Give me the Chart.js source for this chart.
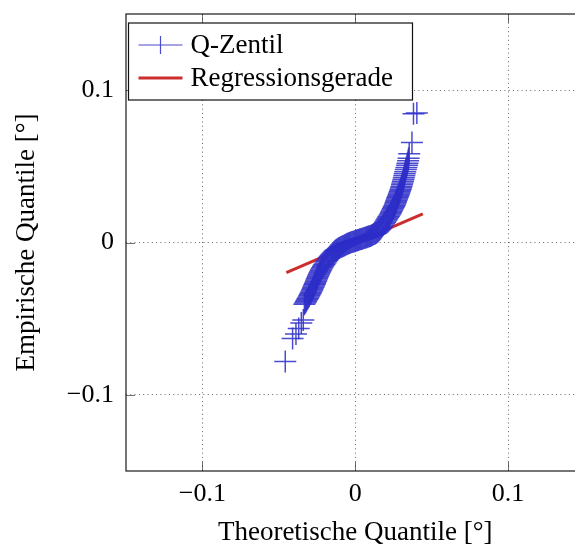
<!DOCTYPE html>
<html>
<head>
<meta charset="utf-8">
<title>Q-Q-Plot</title>
<script src="https://cdn.jsdelivr.net/npm/chart.js@4/dist/chart.umd.min.js"></script>
<style>
  html, body { margin: 0; padding: 0; background: #fff; overflow: hidden; }
  #wrap { width: 590px; height: 549px; }
</style>
</head>
<body>
<div id="wrap"><canvas id="qqChart" width="590" height="549"></canvas></div>
<script>
// theoretical vs. empirical quantiles [deg]
const theoQuantiles = [
  -0.0458, -0.0410, -0.0388, -0.0370, -0.0353, -0.0340,
  -0.0333, -0.0328, -0.0323, -0.0319, -0.0314, -0.0310, -0.0305, -0.0301, -0.0297, -0.0293,
  -0.0289, -0.0285, -0.0281, -0.0278, -0.0274, -0.0271, -0.0267, -0.0264, -0.0261, -0.0257,
  -0.0254, -0.0251, -0.0247, -0.0244, -0.0240, -0.0237, -0.0233, -0.0229, -0.0225, -0.0221,
  -0.0216, -0.0211, -0.0206, -0.0201, -0.0195, -0.0189, -0.0183, -0.0177, -0.0171, -0.0165,
  -0.0159, -0.0153, -0.0147, -0.0141, -0.0135, -0.0129, -0.0123,
  -0.0117, -0.0111, -0.0105, -0.0099, -0.0093, -0.0087, -0.0081, -0.0075, -0.0069, -0.0063,
  -0.0057, -0.0051, -0.0045, -0.0039, -0.0033, -0.0027, -0.0021, -0.0015, -0.0009, -0.0003,
  0.0003, 0.0009, 0.0015, 0.0021, 0.0027, 0.0033, 0.0039, 0.0045, 0.0051, 0.0057,
  0.0063, 0.0069, 0.0075, 0.0081, 0.0087, 0.0093, 0.0099, 0.0105, 0.0111, 0.0117,
  0.0123, 0.0129, 0.0135, 0.0141,
  0.0147, 0.0153, 0.0159, 0.0165, 0.0171, 0.0177, 0.0183, 0.0189, 0.0195, 0.0200,
  0.0205, 0.0210, 0.0215, 0.0220, 0.0225, 0.0230, 0.0234, 0.0238, 0.0242, 0.0246,
  0.0250, 0.0254, 0.0258, 0.0261, 0.0264, 0.0267, 0.0270, 0.0273, 0.0276, 0.0279,
  0.0282, 0.0285, 0.0288, 0.0291, 0.0294, 0.0297, 0.0300, 0.0303, 0.0306, 0.0309,
  0.0312, 0.0315, 0.0318, 0.0321, 0.0324, 0.0327, 0.0331, 0.0335, 0.0339, 0.0342,
  0.0346, 0.0349, 0.0353, 0.0371, 0.0381, 0.0403
];
const empQuantiles = [
  -0.0782, -0.0630, -0.0601, -0.0564, -0.0529, -0.0508,
  -0.0405, -0.0397, -0.0389, -0.0381, -0.0373, -0.0366, -0.0358, -0.0350, -0.0342, -0.0334,
  -0.0326, -0.0318, -0.0310, -0.0302, -0.0294, -0.0286, -0.0278, -0.0270, -0.0262, -0.0254,
  -0.0246, -0.0238, -0.0230, -0.0222, -0.0214, -0.0206, -0.0198, -0.0190, -0.0182, -0.0174,
  -0.0166, -0.0158, -0.0150, -0.0142, -0.0134, -0.0125, -0.0116, -0.0107, -0.0099, -0.0091,
  -0.0084, -0.0077, -0.0070, -0.0064, -0.0058, -0.0053, -0.0048,
  -0.0044, -0.0040, -0.0036, -0.0033, -0.0030, -0.0027, -0.0024, -0.0021, -0.0018, -0.0015,
  -0.0012, -0.0009, -0.0007, -0.0004, -0.0002, 0.0001, 0.0003, 0.0005, 0.0007, 0.0009,
  0.0011, 0.0013, 0.0015, 0.0017, 0.0019, 0.0021, 0.0023, 0.0025, 0.0027, 0.0029,
  0.0031, 0.0033, 0.0035, 0.0037, 0.0039, 0.0041, 0.0043, 0.0046, 0.0049, 0.0052,
  0.0055, 0.0058, 0.0062, 0.0066,
  0.0071, 0.0077, 0.0084, 0.0091, 0.0099, 0.0107, 0.0115, 0.0124, 0.0133, 0.0141,
  0.0149, 0.0157, 0.0165, 0.0173, 0.0181, 0.0189, 0.0197, 0.0205, 0.0213, 0.0221,
  0.0229, 0.0237, 0.0245, 0.0253, 0.0261, 0.0269, 0.0277, 0.0285, 0.0293, 0.0301,
  0.0309, 0.0317, 0.0325, 0.0333, 0.0341, 0.0350, 0.0359, 0.0369, 0.0380, 0.0391,
  0.0402, 0.0413, 0.0425, 0.0438, 0.0451, 0.0465, 0.0479, 0.0493, 0.0507, 0.0521,
  0.0536, 0.0553, 0.0582, 0.0656, 0.0846, 0.0850
];

// regression line end points
const regX = [-0.0451, 0.0442];
const regY = [-0.0198, 0.0188];

const xTickVals = [-0.1, 0, 0.1];
const yTickVals = [-0.1, 0, 0.1];
const seriesNames = ['Q-Zentil', 'Regressionsgerade'];

const SERIF = '"Liberation Serif", "Times New Roman", serif';
const BLUE = 'rgba(45, 45, 200, 0.86)';
const RED = '#cc2e2e';

// "-0.1" -> "−0.1" (typographic minus)
function fmtTick(v) {
  if (v === 0) return '0';
  return (v < 0 ? '\u2212' : '') + Math.abs(v).toString();
}

// inner tick marks, axis frame and the boxed legend in the upper left
const frameAndLegend = {
  id: 'frameAndLegend',
  afterDatasetsDraw(chart) {
    const { ctx, chartArea: a, scales: { x, y } } = chart;
    ctx.save();

    ctx.strokeStyle = 'rgba(0,0,0,0.55)';
    ctx.lineWidth = 1;
    ctx.beginPath();
    xTickVals.forEach(v => {
      const px = Math.round(x.getPixelForValue(v)) + 0.5;
      ctx.moveTo(px, a.bottom); ctx.lineTo(px, a.bottom - 9);
      ctx.moveTo(px, a.top); ctx.lineTo(px, a.top + 9);
    });
    yTickVals.forEach(v => {
      const py = Math.round(y.getPixelForValue(v)) + 0.5;
      ctx.moveTo(a.left, py); ctx.lineTo(a.left + 9, py);
      ctx.moveTo(a.right, py); ctx.lineTo(a.right - 9, py);
    });
    ctx.stroke();

    ctx.strokeStyle = '#1a1a1a';
    ctx.lineWidth = 1.2;
    ctx.strokeRect(a.left, a.top, a.right - a.left, a.bottom - a.top);

    // legend box
    const lx = a.left + 2.5, ly = a.top + 9, lw = 284, lh = 77;
    ctx.fillStyle = '#fff';
    ctx.fillRect(lx, ly, lw, lh);
    ctx.strokeStyle = '#111';
    ctx.lineWidth = 1.2;
    ctx.strokeRect(lx, ly, lw, lh);

    const rowY = [ly + 22, ly + 55];
    const sx0 = lx + 10, sx1 = lx + 54, sxm = (sx0 + sx1) / 2;

    ctx.strokeStyle = BLUE;
    ctx.lineWidth = 1.2;
    ctx.beginPath();
    ctx.moveTo(sx0, rowY[0]); ctx.lineTo(sx1, rowY[0]);
    ctx.moveTo(sxm, rowY[0] - 9); ctx.lineTo(sxm, rowY[0] + 9);
    ctx.stroke();

    ctx.strokeStyle = RED;
    ctx.lineWidth = 3;
    ctx.beginPath();
    ctx.moveTo(sx0, rowY[1]); ctx.lineTo(sx1, rowY[1]);
    ctx.stroke();

    ctx.fillStyle = '#000';
    ctx.font = '27px ' + SERIF;
    ctx.textBaseline = 'alphabetic';
    ctx.textAlign = 'left';
    seriesNames.forEach((name, i) => ctx.fillText(name, lx + 62, rowY[i] + 8));

    ctx.restore();
  }
};

const tickFont = { family: SERIF, size: 26 };
const titleFont = { family: SERIF, size: 27 };

new Chart(document.getElementById('qqChart'), {
  type: 'scatter',
  data: {
    datasets: [
      {
        label: seriesNames[0],
        data: theoQuantiles.map((v, i) => ({ x: v, y: empQuantiles[i] })),
        showLine: false,
        pointStyle: 'cross',
        pointRadius: 11,
        pointBorderWidth: 1.5,
        borderColor: BLUE,
        backgroundColor: BLUE
      },
      {
        label: seriesNames[1],
        data: regX.map((v, i) => ({ x: v, y: regY[i] })),
        showLine: true,
        borderColor: RED,
        borderWidth: 3,
        pointRadius: 0
      }
    ]
  },
  options: {
    responsive: false,
    animation: false,
    layout: { autoPadding: false, padding: { top: 14, right: 5.5, left: 0, bottom: 0 } },
    plugins: {
      legend: { display: false },
      tooltip: { enabled: false }
    },
    scales: {
      x: {
        type: 'linear',
        min: -0.15,
        max: 0.15,
        afterBuildTicks: s => { s.ticks = xTickVals.map(v => ({ value: v })); },
        afterFit: s => { s.height = 78; s.paddingLeft = 0; s.paddingRight = 0; },
        grid: { color: 'rgba(0,0,0,0.6)', lineWidth: 1, drawTicks: false },
        border: { display: false, dash: [1, 3.3] },
        ticks: { color: '#000', font: tickFont, padding: 8, callback: fmtTick },
        title: {
          display: true, text: 'Theoretische Quantile [°]', color: '#000',
          font: titleFont, padding: { top: 4, bottom: 0 }
        }
      },
      y: {
        type: 'linear',
        min: -0.15,
        max: 0.15,
        afterBuildTicks: s => { s.ticks = yTickVals.map(v => ({ value: v })); },
        afterFit: s => { s.width = 126; s.paddingTop = 0; s.paddingBottom = 0; },
        grid: { color: 'rgba(0,0,0,0.6)', lineWidth: 1, drawTicks: false },
        border: { display: false, dash: [1, 3.3] },
        ticks: { color: '#000', font: tickFont, padding: 12, callback: fmtTick },
        title: {
          display: true, text: 'Empirische Quantile [°]', color: '#000',
          font: titleFont, padding: { top: 11, bottom: 0 }
        }
      }
    }
  },
  plugins: [frameAndLegend]
});
</script>
</body>
</html>
